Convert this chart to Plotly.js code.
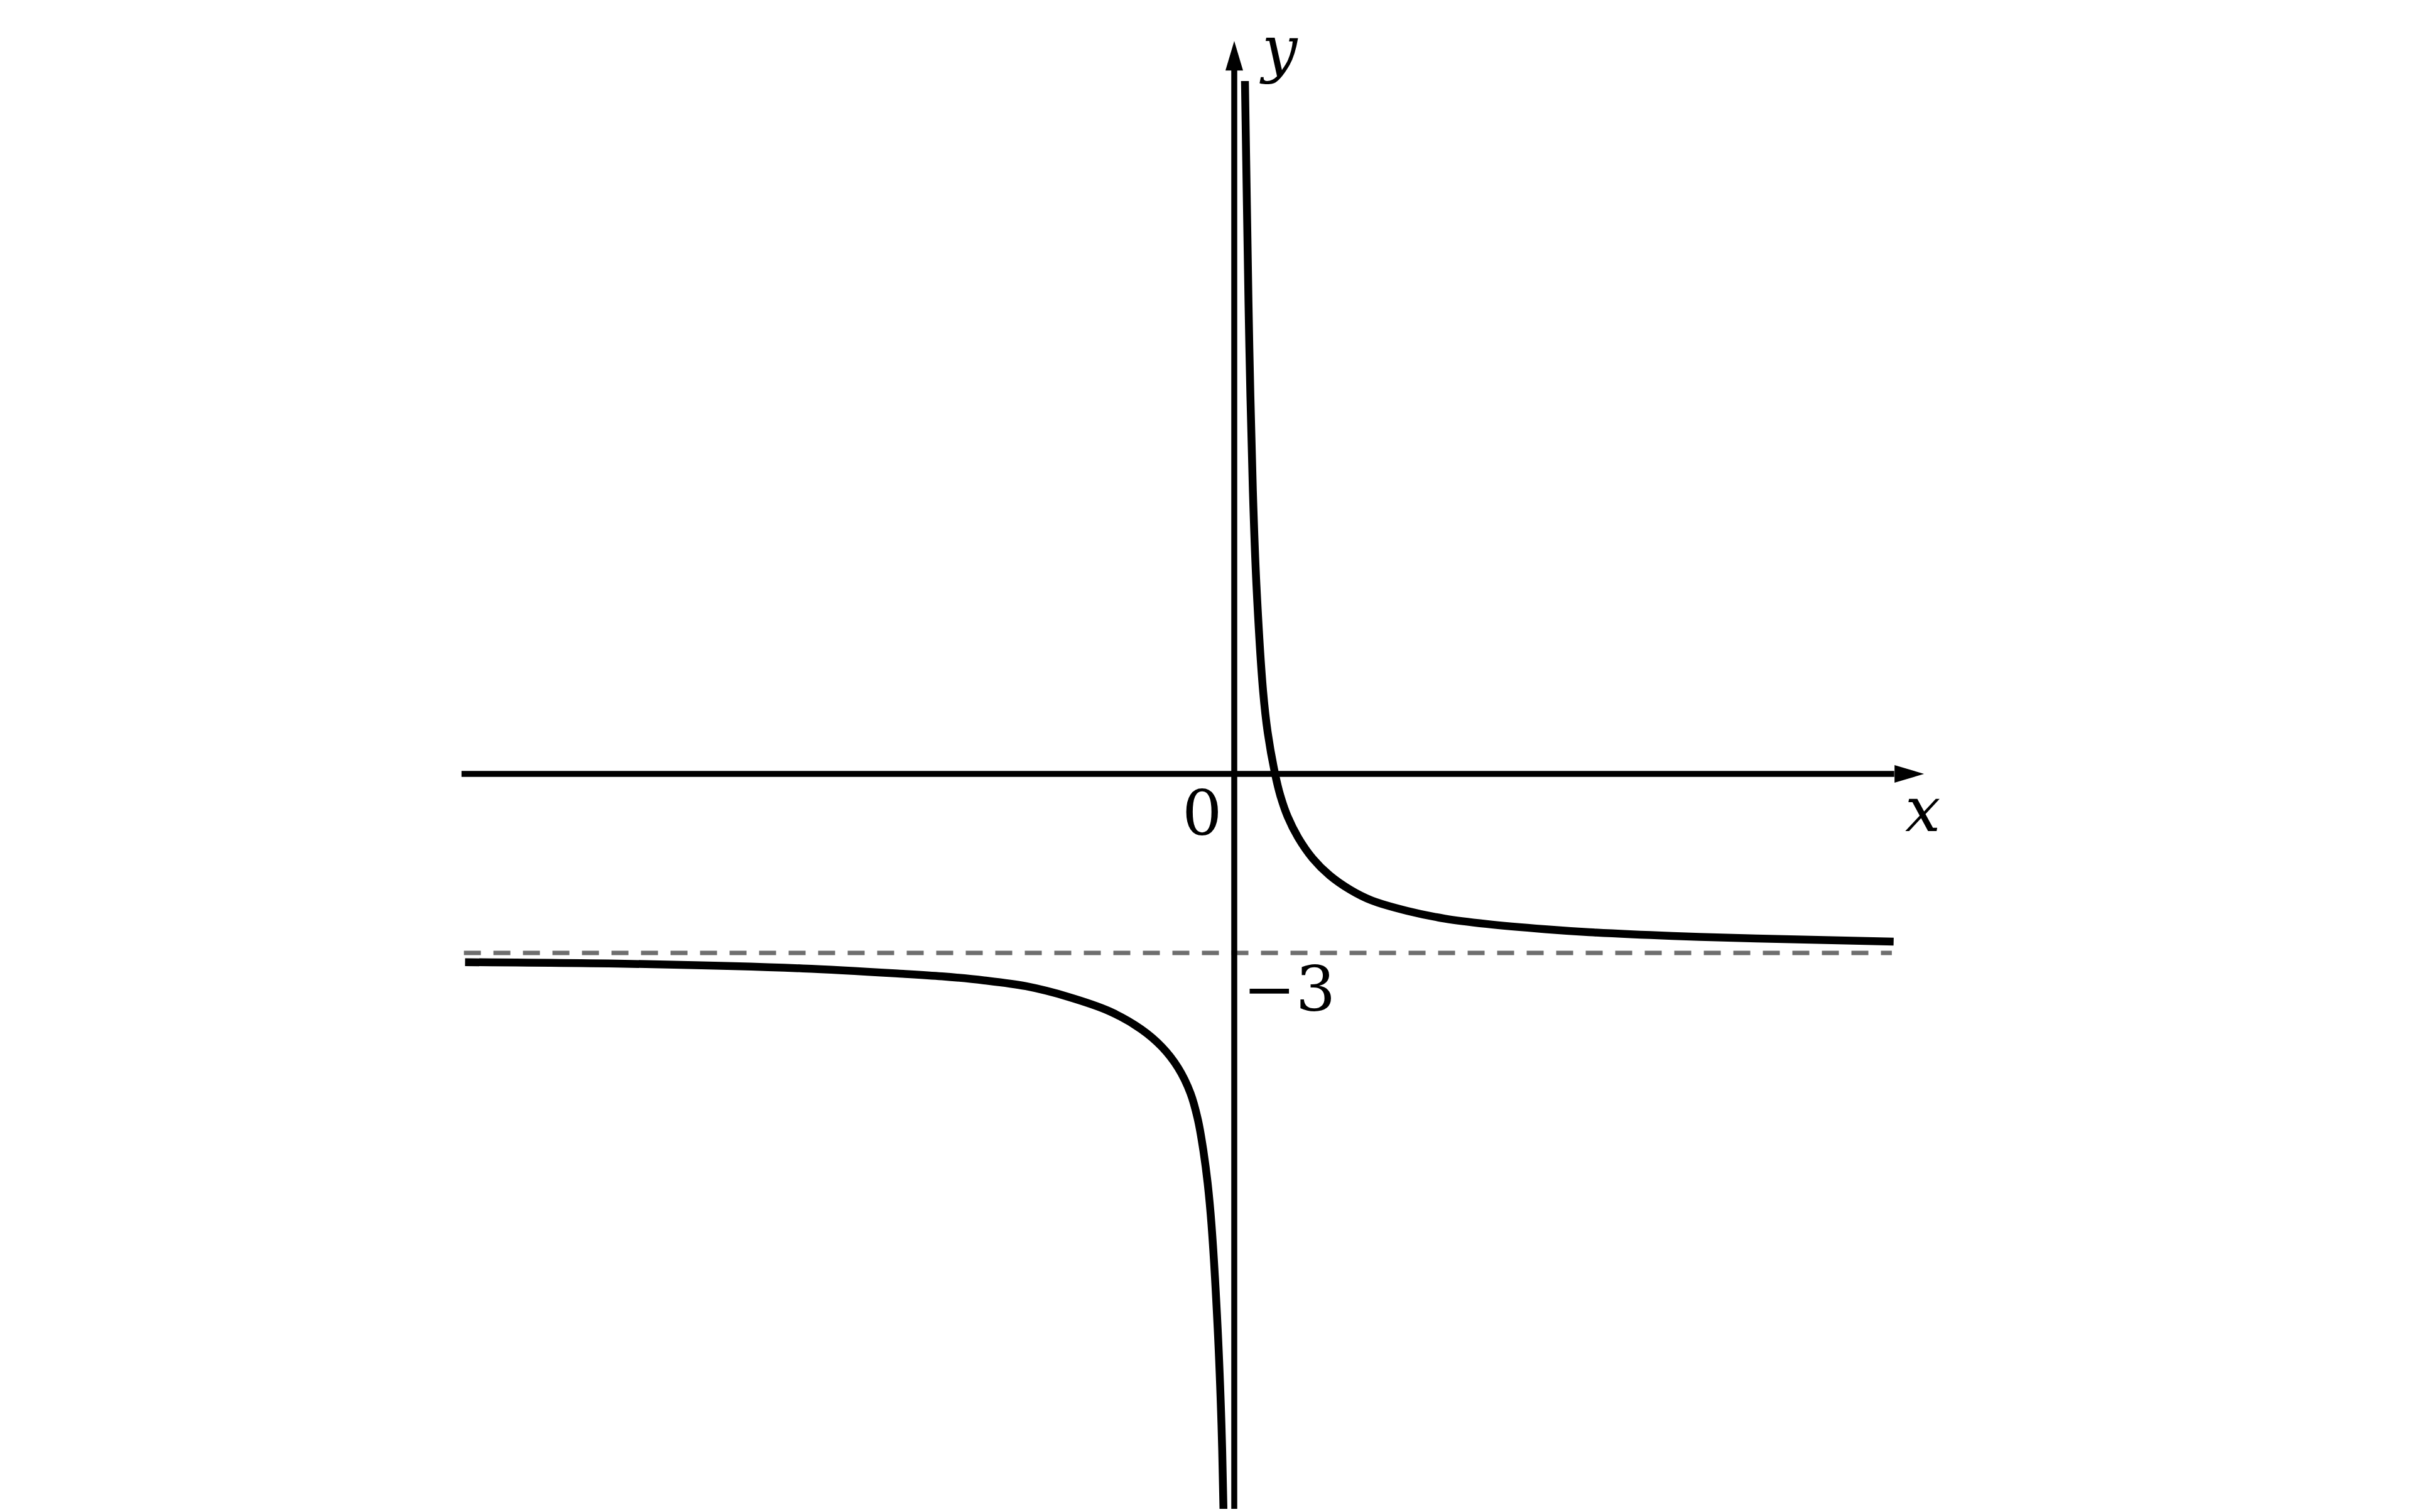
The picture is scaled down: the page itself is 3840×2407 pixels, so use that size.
<!DOCTYPE html>
<html>
<head>
<meta charset="utf-8">
<script src="https://cdn.plot.ly/plotly-3.0.1.min.js"></script>
<style>
  html, body { margin: 0; padding: 0; background: #fff; }
  #graph { width: 3840px; height: 2407px; }
</style>
</head>
<body>
<div id="graph"></div>
<script>
// branch of the hyperbola left of the y axis
var leftX = [-12.89, -9.75, -7.23, -5.55, -4.895, -4.193, -3.492, -2.789, -2.087, -1.561, -1.211, -0.94, -0.735, -0.607, -0.515, -0.446, -0.381, -0.278, -0.214, -0.182, -0.177];
var leftY = [-3.155, -3.19, -3.26, -3.35, -3.393, -3.46, -3.558, -3.734, -3.979, -4.277, -4.576, -4.926, -5.347, -5.803, -6.330, -6.856, -7.558, -9.29, -10.91, -12.27, -12.6];

// branch right of the y axis
var rightX = [0.179, 0.212, 0.253, 0.312, 0.372, 0.483, 0.561, 0.684, 0.772, 0.895, 1.071, 1.316, 1.597, 1.947, 2.298, 2.895, 3.526, 4.228, 5.211, 5.947, 7.347, 8.747, 11.05];
var rightY = [11.61, 9.53, 7.14, 4.74, 3.16, 1.39, 0.691, 0, -0.362, -0.716, -1.067, -1.418, -1.699, -1.944, -2.119, -2.295, -2.425, -2.515, -2.603, -2.653, -2.716, -2.758, -2.811];

// horizontal asymptote y = -3
var asymX = [-12.91, 11.02];
var asymY = [-3, -3];

// axes: where the shafts run and where the arrow tips sit
var xAxisX = [-12.95, 11.06];
var xTip = 11.56;
var yAxisY = [-12.6, 11.79];
var yTip = 12.28;

var labels = [
    { text: '0', x: -0.537, y: -0.66, italic: false },
    { text: '\u22123', x: 0.916, y: -3.61, italic: false },
    { text: 'x', x: 11.54, y: -0.6, italic: true },
    { text: 'y', x: 0.747, y: 12.15, italic: true }
];

var black = '#000000';
var unitPx = 95;          // one data unit in pixels on both axes
var headLen = 47 / unitPx;
var headHalf = 14 / unitPx;

// filled arrow heads built from the tips
function head(xs, ys) {
    return { x: xs, y: ys, mode: 'lines', fill: 'toself', fillcolor: black, line: { color: black, width: 0 } };
}

function branch(xs, ys) {
    return { x: xs, y: ys, mode: 'lines', line: { color: black, width: 12.5, shape: 'spline', smoothing: 1, simplify: false } };
}

var traces = [
    { x: asymX, y: asymY, mode: 'lines', line: { color: '#6e6e6e', width: 7, dash: '27px,20px' } },
    { x: xAxisX, y: [0, 0], mode: 'lines', line: { color: black, width: 9.5 } },
    { x: [0, 0], y: yAxisY, mode: 'lines', line: { color: black, width: 9.5 } },
    head([xTip, xTip - headLen, xTip - headLen, xTip], [0, headHalf, -headHalf, 0]),
    head([0, -headHalf, headHalf, 0], [yTip, yTip - headLen, yTip - headLen, yTip]),
    branch(leftX, leftY),
    branch(rightX, rightY)
];

var layout = {
    width: 3840,
    height: 2407,
    margin: { l: 0, r: 0, t: 0, b: 5 },
    paper_bgcolor: '#ffffff',
    plot_bgcolor: '#ffffff',
    showlegend: false,
    xaxis: { range: [-20.684, 19.737], visible: false, fixedrange: true },
    yaxis: { range: [-12.316, 12.968], visible: false, fixedrange: true },
    annotations: labels.map(function(l){
        return {
            x: l.x, y: l.y, xref: 'x', yref: 'y',
            text: l.italic ? '<i>' + l.text + '</i>' : l.text,
            showarrow: false,
            xanchor: 'center', yanchor: 'middle',
            font: { family: 'DejaVu Serif', size: 100, color: black }
        };
    })
};

Plotly.newPlot('graph', traces, layout, { staticPlot: true, displayModeBar: false });
</script>
</body>
</html>
